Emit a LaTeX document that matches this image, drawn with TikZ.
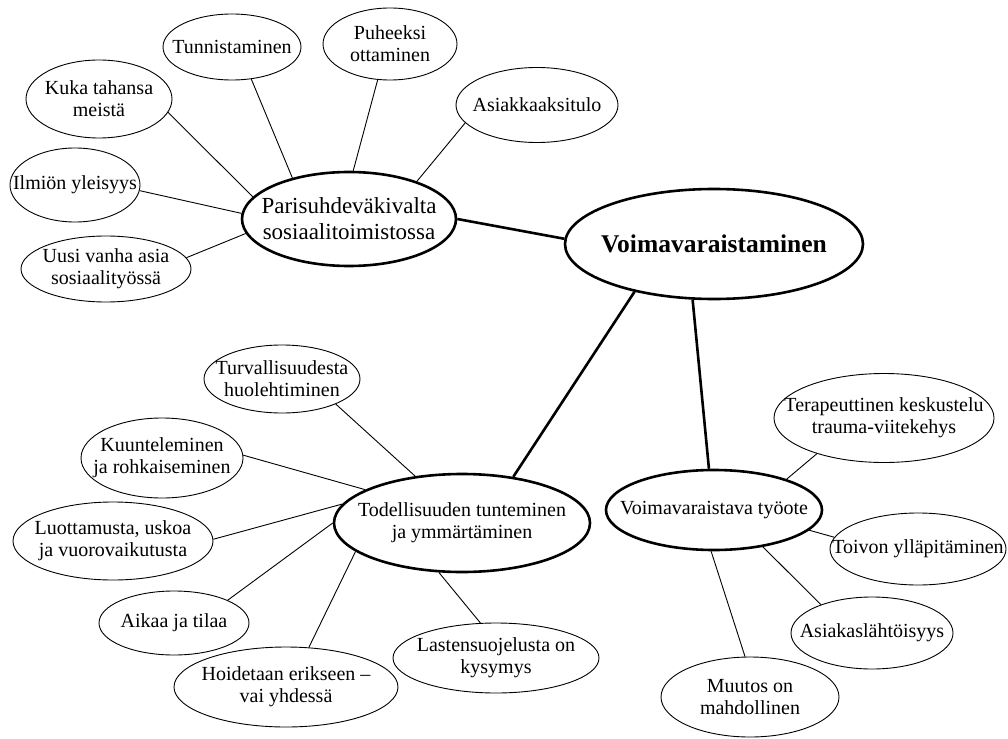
\documentclass[tikz,border=0pt]{standalone}
\usepackage{fontspec}
\setmainfont{Liberation Serif}
\usetikzlibrary{shapes.geometric}
\tikzset{
  ell/.style={ellipse, draw, line width=0.9pt, inner sep=0pt},
  mainell/.style={ellipse, draw, line width=2.6pt, inner sep=0pt},
  lbl/.style={align=center, inner sep=0pt, font=\fontsize{20}{22}\selectfont},
  biglbl/.style={align=center, inner sep=0pt, font=\fontsize{23}{26}\selectfont},
  toplbl/.style={align=center, inner sep=0pt, font=\fontsize{25.5}{28}\selectfont\bfseries},
  lnk/.style={line width=0.9pt},
  mainlnk/.style={line width=2.6pt}
}
\newcommand\bub[7]{%
  \node[#1, minimum width=#4, minimum height=#5] (#2) at (#3) {};
  \node[#6] (#2t) at (#2.center) {#7};}
\begin{document}
\begin{tikzpicture}[x=1pt,y=-1pt]
\useasboundingbox (0,0) rectangle (1008,738);
\fill[white] (0,0) rectangle (1008,738);
% top group
\bub{ell}{tun}{232,47}{138}{66}{lbl}{Tunnistaminen}
\bub{ell}{puh}{390,44}{134}{72}{lbl}{Puheeksi\\ottaminen}
\bub{ell}{asi}{537,105}{162}{75}{lbl}{Asiakkaaksitulo}
\bub{ell}{kuk}{99,99}{146}{78}{lbl}{Kuka tahansa\\meistä}
\bub{ell}{ilm}{75,185}{130}{74}{lbl}{Ilmiön yleisyys}
\bub{ell}{uus}{106,269}{170}{66}{lbl}{Uusi vanha asia\\sosiaalityössä}
\bub{mainell}{par}{349,219}{214}{94}{biglbl}{Parisuhdeväkivalta\\sosiaalitoimistossa}
% centre
\bub{mainell}{voi}{714,244}{298}{110}{toplbl}{Voimavaraistaminen}
% right group
\bub{mainell}{tyo}{714,510}{216}{80}{lbl}{Voimavaraistava työote}
\bub{ell}{ter}{884,418}{220}{89}{lbl}{Terapeuttinen keskustelu\\trauma-viitekehys}
\bub{ell}{toi}{918,549}{176}{72}{lbl}{Toivon ylläpitäminen}
\bub{ell}{asl}{872,633}{162}{72}{lbl}{Asiakaslähtöisyys}
\bub{ell}{muu}{750,697}{178}{80}{lbl}{Muutos on\\mahdollinen}
% bottom-left group
\bub{mainell}{tod}{462,523}{256}{98}{lbl}{Todellisuuden tunteminen\\ja ymmärtäminen}
\bub{ell}{tur}{282,379}{156}{68}{lbl}{Turvallisuudesta\\huolehtiminen}
\bub{ell}{kuu}{162,458}{162}{80}{lbl}{Kuunteleminen\\ja rohkaiseminen}
\bub{ell}{luo}{113,541}{200}{78}{lbl}{Luottamusta, uskoa\\ja vuorovaikutusta}
\bub{ell}{aik}{174,623}{150}{64}{lbl}{Aikaa ja tilaa}
\bub{ell}{hoi}{286,687}{224}{80}{lbl}{Hoidetaan erikseen –\\vai yhdessä}
\bub{ell}{las}{496,658}{206}{70}{lbl}{Lastensuojelusta on\\kysymys}
% connectors
\draw[lnk] (kuk.-11.6) -- (par.167);
\draw[lnk] (tun.-59) -- (par.144);
\draw[lnk] (puh.-109) -- (par.85);
\draw[lnk] (asi.-166) -- (par.29);
\draw[lnk] (ilm.-5) -- (par.177);
\draw[lnk] (uus.8) -- (par.-172);
\draw[mainlnk] (par.0) -- (voi.178.5);
\draw[mainlnk] (voi.-149.6) -- (tod.42.7);
\draw[mainlnk] (voi.-111) -- (tyo.97);
\draw[lnk] (ter.-152.8) -- (tyo.23);
\draw[lnk] (toi.172.6) -- (tyo.-12.3);
\draw[lnk] (asl.151.7) -- (tyo.-37.6);
\draw[lnk] (muu.97) -- (tyo.-94);
\draw[lnk] (tur.-25.3) -- (tod.135.8);
\draw[lnk] (kuu.2) -- (tod.161);
\draw[lnk] (luo.1.7) -- (tod.171);
\draw[lnk] (aik.23.8) -- (tod.180);
\draw[lnk] (hoi.60.6) -- (tod.-165.7);
\draw[lnk] (las.114.6) -- (tod.-115);
\end{tikzpicture}
\end{document}
